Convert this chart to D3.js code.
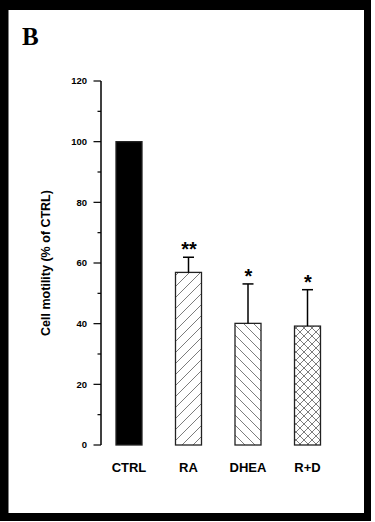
<!DOCTYPE html>
<html>
<head>
<meta charset="utf-8">
<script src="https://cdn.jsdelivr.net/npm/d3@7/dist/d3.min.js"></script>
<style>
  html, body { margin: 0; padding: 0; background: #fff; }
  svg { display: block; }
</style>
</head>
<body>
<svg width="375" height="522"></svg>
<script>
var groups = ["CTRL", "RA", "DHEA", "R+D"];
var means  = [100, 56.9, 40.1, 39.2];
var errors = [0, 5.0, 13.0, 12.0];
var stars  = ["", "**", "*", "*"];
var fills  = ["solid", "fwd", "back", "cross"];
var yTicks = [0, 20, 40, 60, 80, 100, 120];

var svg = d3.select("svg");

// frame
svg.append("rect").attr("x", 0).attr("y", 0).attr("width", 371).attr("height", 521).attr("fill", "#000");
svg.append("rect").attr("x", 8.5).attr("y", 10).attr("width", 355.5).attr("height", 503).attr("fill", "#fff");

svg.append("text")
    .attr("x", 22).attr("y", 45)
    .attr("font-family", "Liberation Serif, Times New Roman, serif")
    .attr("font-weight", "bold")
    .attr("font-size", 25)
    .text("B");

// hatch patterns
var defs = svg.append("defs");
function hatch(id, size, d) {
  defs.append("pattern")
      .attr("id", id)
      .attr("patternUnits", "userSpaceOnUse")
      .attr("width", size).attr("height", size)
    .append("path")
      .attr("d", d)
      .attr("stroke", "#444")
      .attr("stroke-width", 0.7)
      .attr("fill", "none");
}
var s1 = 11, s2 = 10, s3 = 8;
hatch("fwd", s1, "M0," + s1 + "L" + s1 + ",0M-2,2L2,-2M" + (s1 - 2) + "," + (s1 + 2) + "L" + (s1 + 2) + "," + (s1 - 2));
hatch("back", s2, "M0,0L" + s2 + "," + s2 + "M-2," + (s2 - 2) + "L2," + (s2 + 2) + "M" + (s2 - 2) + ",-2L" + (s2 + 2) + ",2");
hatch("cross", s3, "M0,0L" + s3 + "," + s3 + "M0," + s3 + "L" + s3 + ",0");

var x = d3.scaleBand()
    .domain(groups)
    .range([101, 335.5])
    .paddingInner(0.563)
    .paddingOuter(0.252);

var y = d3.scaleLinear().domain([0, 120]).range([445, 81]);

// y axis
var axis = svg.append("g").attr("transform", "translate(101,0)");
axis.append("line")
    .attr("y1", y(0)).attr("y2", y(120))
    .attr("stroke", "#000").attr("stroke-width", 1.5);
axis.selectAll(".minor")
    .data(d3.range(10, 120, 20))
    .enter().append("line")
    .attr("x1", -3.5).attr("x2", 0)
    .attr("y1", y).attr("y2", y)
    .attr("stroke", "#000").attr("stroke-width", 1.2);
axis.selectAll(".major")
    .data(yTicks)
    .enter().append("line")
    .attr("x1", -7.5).attr("x2", 0)
    .attr("y1", y).attr("y2", y)
    .attr("stroke", "#000").attr("stroke-width", 1.2);
axis.selectAll("text")
    .data(yTicks)
    .enter().append("text")
    .attr("x", -14)
    .attr("y", function(d) { return y(d); })
    .attr("dy", "0.35em")
    .attr("text-anchor", "end")
    .attr("font-family", "Liberation Sans, Arial, sans-serif")
    .attr("font-weight", "bold")
    .attr("font-size", 9.5)
    .text(function(d) { return d; });

svg.append("text")
    .attr("transform", "translate(50," + y(60) + ") rotate(-90)")
    .attr("text-anchor", "middle")
    .attr("font-family", "Liberation Sans, Arial, sans-serif")
    .attr("font-weight", "bold")
    .attr("font-size", 12.5)
    .text("Cell motility (% of CTRL)");

// bars
var data = groups.map(function(g, i) {
  return { g: g, v: means[i], e: errors[i], s: stars[i], f: fills[i] };
});

svg.selectAll(".bar")
    .data(data)
    .enter().append("rect")
    .attr("class", "bar")
    .attr("x", function(d) { return x(d.g); })
    .attr("y", function(d) { return y(d.v); })
    .attr("width", x.bandwidth())
    .attr("height", function(d) { return y(0) - y(d.v); })
    .attr("fill", function(d) { return d.f == "solid" ? "#000" : "url(#" + d.f + ")"; })
    .attr("stroke", "#222")
    .attr("stroke-width", 1.3);

// error bars
var eb = data.filter(function(d) { return d.e > 0; });
svg.selectAll(".stem")
    .data(eb)
    .enter().append("line")
    .attr("x1", function(d) { return x(d.g) + x.bandwidth() / 2; })
    .attr("x2", function(d) { return x(d.g) + x.bandwidth() / 2; })
    .attr("y1", function(d) { return y(d.v); })
    .attr("y2", function(d) { return y(d.v + d.e); })
    .attr("stroke", "#000").attr("stroke-width", 1.5);
svg.selectAll(".cap")
    .data(eb)
    .enter().append("line")
    .attr("x1", function(d) { return x(d.g) + x.bandwidth() / 2 - 5.5; })
    .attr("x2", function(d) { return x(d.g) + x.bandwidth() / 2 + 5.5; })
    .attr("y1", function(d) { return y(d.v + d.e); })
    .attr("y2", function(d) { return y(d.v + d.e); })
    .attr("stroke", "#000").attr("stroke-width", 1.5);

svg.selectAll(".star")
    .data(eb)
    .enter().append("text")
    .attr("x", function(d) { return x(d.g) + x.bandwidth() / 2 + 0.5; })
    .attr("y", function(d) { return y(d.v + d.e) - 1; })
    .attr("text-anchor", "middle")
    .attr("font-family", "Liberation Sans, Arial, sans-serif")
    .attr("font-weight", "bold")
    .attr("font-size", 20)
    .text(function(d) { return d.s; });

// x labels
svg.selectAll(".xl")
    .data(groups)
    .enter().append("text")
    .attr("x", function(d) { return x(d) + x.bandwidth() / 2; })
    .attr("y", 472)
    .attr("text-anchor", "middle")
    .attr("font-family", "Liberation Sans, Arial, sans-serif")
    .attr("font-weight", "bold")
    .attr("font-size", 13)
    .text(function(d) { return d; });
</script>
</body>
</html>
